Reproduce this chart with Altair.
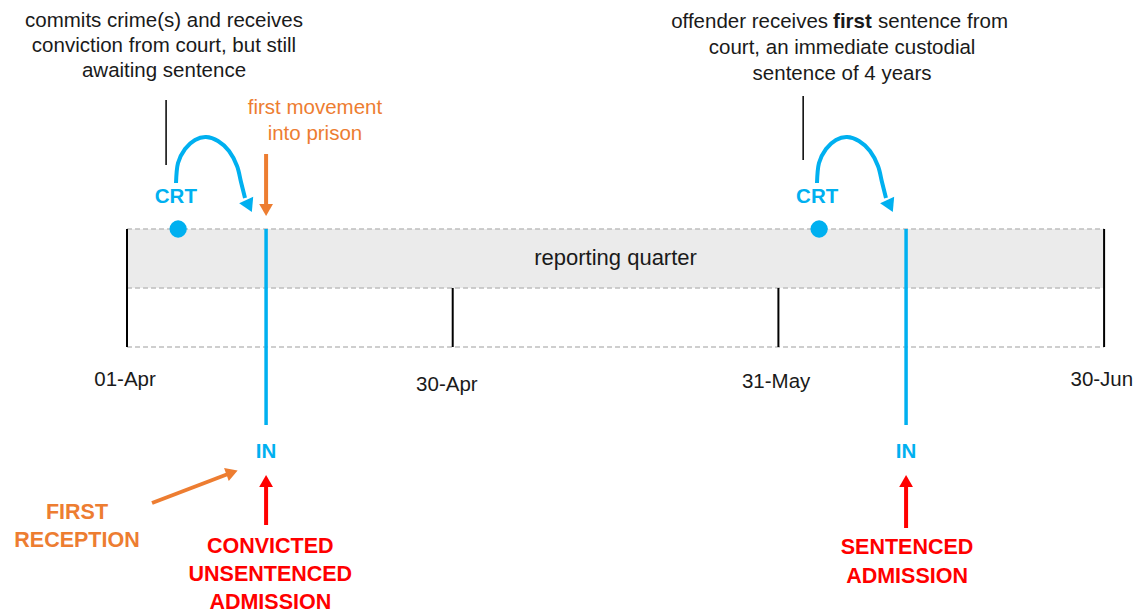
import altair as alt
import pandas as pd

# Horizontal position unit: one segment of the reporting quarter
# 0 = 01-Apr, 1 = 30-Apr, 2 = 31-May, 3 = 30-Jun (equally spaced in the diagram)
# Vertical position: diagram rows (top = small)

BLUE = "#00b0f0"
ORANGE = "#ed7d31"
RED = "#ff0000"
GRID = "#bfbfbf"
BAND = "#ebebeb"

tick_labels = ["01-Apr", "30-Apr", "31-May", "30-Jun"]
tick_pos = [0, 1, 2, 3]
tick_top = [229, 288, 288, 229]
tick_bottom = [347, 347, 347, 347]
tick_label_x = [-0.006, 0.982, 1.993, 2.993]
tick_label_y = [380, 385, 382, 380]

band_start, band_end = 0, 3
band_top, band_mid, band_bottom = 229, 288, 347
band_label = "reporting quarter"
band_label_x, band_label_y = 1.5, 258

# court events (CRT) and prison admissions (IN)
crt_x = [0.157, 2.125]
crt_y = [229, 229]
crt_label_x = [0.150, 2.119]
crt_label_y = [197, 197]
in_x = [0.427, 2.392]
in_top = [229, 229]
in_bottom = [425, 425]
in_label_y = [452, 452]

# curved arrows from CRT to IN
curve1_x = [0.1505, 0.1566, 0.1781, 0.2088, 0.2426, 0.2794, 0.3132, 0.3378, 0.3500, 0.3623]
curve1_y = [183, 163, 149, 140, 137, 141, 151, 166, 182, 198]
curve2_x = [2.1185, 2.1246, 2.1461, 2.1768, 2.2106, 2.2474, 2.2812, 2.3058, 2.3180, 2.3303]
curve2_y = [183, 163, 149, 140, 137, 141, 151, 166, 182, 198]
curve_head_x = [0.3746, 2.3426]
curve_head_y = [206, 206]

# leader lines to annotations
leader_x = [0.120, 2.076]
leader_top = [100, 96]
leader_bottom = [165, 160]

left_note = ["commits crime(s) and receives", "conviction from court, but still", "awaiting sentence"]
left_note_x = 0.1136
left_note_y = [21, 46, 71]

right_note_line1 = ["offender receives", "first", "sentence from"]
right_note_line1_x = [2.1525, 2.1678, 2.306]
right_note_rest = ["court, an immediate custodial", "sentence of 4 years"]
right_note_x = 2.1955
right_note_y = [22, 48, 74]

move_note = ["first movement", "into prison"]
move_note_x = 0.577
move_note_y = [108, 134]

reception_note = ["FIRST", "RECEPTION"]
reception_x = -0.1535
reception_y = [513, 541]

conv_note = ["CONVICTED", "UNSENTENCED", "ADMISSION"]
conv_x = 0.44
conv_y = [547, 575, 603]
sent_note = ["SENTENCED", "ADMISSION"]
sent_x = 2.395
sent_y = [548, 577]

red_arrow_x = [0.427, 2.392]
red_arrow_bottom = [525, 528]
red_arrow_top = [485, 485]
red_head_y = [481, 481]

orange_down_x = 0.427
orange_down_top, orange_down_bottom, orange_down_head = 154, 207, 210
orange_diag_x = [0.0768, 0.3101]
orange_diag_y = [503, 474]
orange_diag_head = (0.3224, 472.5)

XS = alt.Scale(domain=[-0.3654, 3.0918])
YS = alt.Scale(domain=[8, 616], reverse=True)
FONT = "Liberation Sans"
BODY = 20.5
BOLD = 21.5


def X(f="x"):
    return alt.X(f"{f}:Q", scale=XS, axis=None)


def Y(f="y"):
    return alt.Y(f"{f}:Q", scale=YS, axis=None)


layers = []

# band
band_df = pd.DataFrame({"x": [band_start], "x2": [band_end], "y": [band_top], "y2": [band_mid]})
layers.append(alt.Chart(band_df).mark_rect(color=BAND).encode(x=X(), x2="x2:Q", y=Y(), y2="y2:Q"))

# dashed lines
dash_df = pd.DataFrame({"x": [band_start] * 3, "x2": [band_end] * 3, "y": [band_top, band_mid, band_bottom]})
layers.append(alt.Chart(dash_df).mark_rule(color=GRID, strokeDash=[5, 3], strokeWidth=1.5)
              .encode(x=X(), x2="x2:Q", y=Y()))

# ticks
tick_df = pd.DataFrame({"x": tick_pos, "y": tick_top, "y2": tick_bottom})
layers.append(alt.Chart(tick_df).mark_rule(color="black", strokeWidth=2)
              .encode(x=X(), y=Y(), y2="y2:Q"))

tl_df = pd.DataFrame({"x": tick_label_x, "y": tick_label_y, "t": tick_labels})
layers.append(alt.Chart(tl_df).mark_text(font=FONT, fontSize=BODY, color="#1a1a1a")
              .encode(x=X(), y=Y(), text="t:N"))

bl_df = pd.DataFrame({"x": [band_label_x], "y": [band_label_y], "t": [band_label]})
layers.append(alt.Chart(bl_df).mark_text(font=FONT, fontSize=22, color="#1a1a1a")
              .encode(x=X(), y=Y(), text="t:N"))

# IN lines
in_df = pd.DataFrame({"x": in_x, "y": in_top, "y2": in_bottom})
layers.append(alt.Chart(in_df).mark_rule(color=BLUE, strokeWidth=3.5)
              .encode(x=X(), y=Y(), y2="y2:Q"))

# CRT dots
crt_df = pd.DataFrame({"x": crt_x, "y": crt_y})
layers.append(alt.Chart(crt_df).mark_circle(color=BLUE, size=300, opacity=1)
              .encode(x=X(), y=Y()))

crtl_df = pd.DataFrame({"x": crt_label_x, "y": crt_label_y, "t": ["CRT", "CRT"]})
layers.append(alt.Chart(crtl_df).mark_text(font=FONT, fontSize=BODY, fontWeight="bold", color=BLUE)
              .encode(x=X(), y=Y(), text="t:N"))

inl_df = pd.DataFrame({"x": in_x, "y": in_label_y, "t": ["IN", "IN"]})
layers.append(alt.Chart(inl_df).mark_text(font=FONT, fontSize=BODY, fontWeight="bold", color=BLUE)
              .encode(x=X(), y=Y(), text="t:N"))

# curves
curve_df = pd.DataFrame({
    "x": curve1_x + curve2_x,
    "y": curve1_y + curve2_y,
    "g": ["a"] * len(curve1_x) + ["b"] * len(curve2_x),
    "o": list(range(len(curve1_x))) + list(range(len(curve2_x))),
})
layers.append(alt.Chart(curve_df).mark_line(color=BLUE, strokeWidth=4, interpolate="cardinal")
              .encode(x=X(), y=Y(), detail="g:N", order="o:Q"))
ch_df = pd.DataFrame({"x": curve_head_x, "y": curve_head_y})
layers.append(alt.Chart(ch_df).mark_point(shape="triangle-up", filled=True, color=BLUE, size=240,
                                          angle=155, opacity=1)
              .encode(x=X(), y=Y()))

# leader lines
ld_df = pd.DataFrame({"x": leader_x, "y": leader_top, "y2": leader_bottom})
layers.append(alt.Chart(ld_df).mark_rule(color="black", strokeWidth=1.5)
              .encode(x=X(), y=Y(), y2="y2:Q"))

# notes
ln_df = pd.DataFrame({"x": [left_note_x] * 3, "y": left_note_y, "t": left_note})
layers.append(alt.Chart(ln_df).mark_text(font=FONT, fontSize=BODY, color="#1a1a1a")
              .encode(x=X(), y=Y(), text="t:N"))

r1_df = pd.DataFrame({"x": right_note_line1_x, "y": [right_note_y[0]] * 3, "t": right_note_line1,
                      "a": ["right", "left", "left"], "w": ["normal", "bold", "normal"]})
for i in range(3):
    sub = r1_df.iloc[[i]]
    layers.append(alt.Chart(sub).mark_text(font=FONT, fontSize=BODY, color="#1a1a1a",
                                           align=sub["a"].iloc[0], fontWeight=sub["w"].iloc[0])
                  .encode(x=X(), y=Y(), text="t:N"))
rr_df = pd.DataFrame({"x": [right_note_x] * 2, "y": right_note_y[1:], "t": right_note_rest})
layers.append(alt.Chart(rr_df).mark_text(font=FONT, fontSize=BODY, color="#1a1a1a")
              .encode(x=X(), y=Y(), text="t:N"))

mv_df = pd.DataFrame({"x": [move_note_x] * 2, "y": move_note_y, "t": move_note})
layers.append(alt.Chart(mv_df).mark_text(font=FONT, fontSize=BODY, color=ORANGE)
              .encode(x=X(), y=Y(), text="t:N"))

# orange arrows
od_df = pd.DataFrame({"x": [orange_down_x], "y": [orange_down_top], "y2": [orange_down_bottom]})
layers.append(alt.Chart(od_df).mark_rule(color=ORANGE, strokeWidth=4)
              .encode(x=X(), y=Y(), y2="y2:Q"))
odh_df = pd.DataFrame({"x": [orange_down_x], "y": [orange_down_head]})
layers.append(alt.Chart(odh_df).mark_point(shape="triangle-down", filled=True, color=ORANGE, size=190, opacity=1)
              .encode(x=X(), y=Y()))

og_df = pd.DataFrame({"x": orange_diag_x, "y": orange_diag_y, "o": [0, 1]})
layers.append(alt.Chart(og_df).mark_line(color=ORANGE, strokeWidth=4)
              .encode(x=X(), y=Y(), order="o:Q"))
ogh_df = pd.DataFrame({"x": [orange_diag_head[0]], "y": [orange_diag_head[1]]})
layers.append(alt.Chart(ogh_df).mark_point(shape="triangle-up", filled=True, color=ORANGE, size=190,
                                           angle=70, opacity=1)
              .encode(x=X(), y=Y()))

rc_df = pd.DataFrame({"x": [reception_x] * 2, "y": reception_y, "t": reception_note})
layers.append(alt.Chart(rc_df).mark_text(font=FONT, fontSize=BOLD, fontWeight="bold", color=ORANGE)
              .encode(x=X(), y=Y(), text="t:N"))

# red arrows
ra_df = pd.DataFrame({"x": red_arrow_x, "y": red_arrow_top, "y2": red_arrow_bottom})
layers.append(alt.Chart(ra_df).mark_rule(color=RED, strokeWidth=4)
              .encode(x=X(), y=Y(), y2="y2:Q"))
rah_df = pd.DataFrame({"x": red_arrow_x, "y": red_head_y})
layers.append(alt.Chart(rah_df).mark_point(shape="triangle-up", filled=True, color=RED, size=190, opacity=1)
              .encode(x=X(), y=Y()))

cv_df = pd.DataFrame({"x": [conv_x] * 3, "y": conv_y, "t": conv_note})
layers.append(alt.Chart(cv_df).mark_text(font=FONT, fontSize=BOLD, fontWeight="bold", color=RED)
              .encode(x=X(), y=Y(), text="t:N"))
st_df = pd.DataFrame({"x": [sent_x] * 2, "y": sent_y, "t": sent_note})
layers.append(alt.Chart(st_df).mark_text(font=FONT, fontSize=BOLD, fontWeight="bold", color=RED)
              .encode(x=X(), y=Y(), text="t:N"))

chart = alt.layer(*layers).properties(
    width=1126, height=608, padding=0,
    autosize=alt.AutoSizeParams(type="none"),
).configure_view(stroke=None)

chart.save("out.html", embed_options={"renderer": "svg", "actions": False})
